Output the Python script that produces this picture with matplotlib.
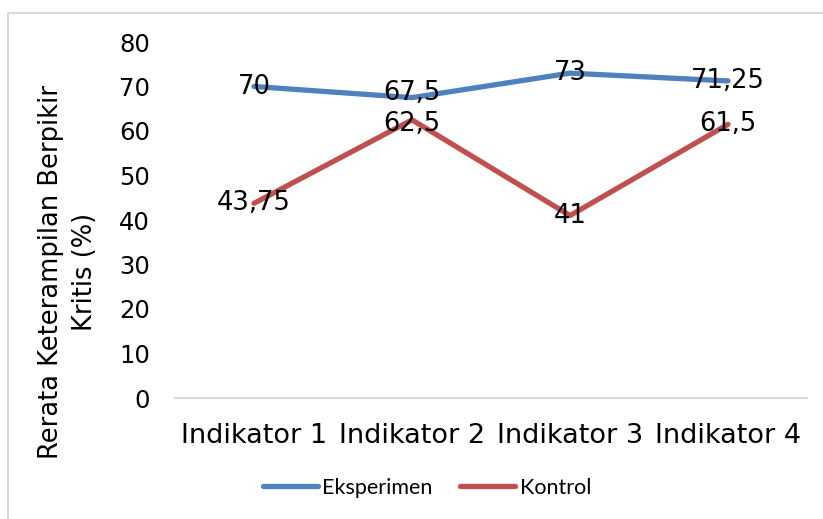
import matplotlib
matplotlib.use("Agg")
import matplotlib.pyplot as plt
from matplotlib.patches import Rectangle

categories = ["Indikator 1", "Indikator 2", "Indikator 3", "Indikator 4"]
eksperimen = [70, 67.5, 73, 71.25]
kontrol = [43.75, 62.5, 41, 61.5]
yticks = [0, 10, 20, 30, 40, 50, 60, 70, 80]

W, H = 823, 519
fig = plt.figure(figsize=(W / 100, H / 100), dpi=100)
fig.patch.set_facecolor("white")

# outer chart border (extends past right/bottom edges)
fig.patches.append(Rectangle((8 / W, -0.05), 1.0, (H - 13) / H + 0.05,
                             transform=fig.transFigure, fill=False,
                             edgecolor="#D9D9D9", linewidth=1.5))

left, right = 175 / W, 807 / W
bottom, top = 1 - 398 / H, 1 - 42 / H
ax = fig.add_axes([left, bottom, right - left, top - bottom])

x = list(range(len(categories)))
blue = "#4F81BD"
red = "#C0504D"
ax.plot(x, eksperimen, color=blue, lw=3.8, solid_capstyle="round", label="Eksperimen", zorder=3)
ax.plot(x, kontrol, color=red, lw=3.8, solid_capstyle="round", label="Kontrol", zorder=3)

def fmt(v):
    return ("%g" % v).replace(".", ",")

# data labels centred on points; the close pair at Indikator 2 nudged apart slightly
for i, (xi, v) in enumerate(zip(x, eksperimen)):
    dy = 3 if abs(v - kontrol[i]) < 8 else 0
    ax.annotate(fmt(v), (xi, v), xytext=(0, dy), textcoords="offset points",
                ha="center", va="center", fontsize=18.5, color="black", zorder=4)
for i, (xi, v) in enumerate(zip(x, kontrol)):
    dy = -3 if abs(v - eksperimen[i]) < 8 else 0
    ax.annotate(fmt(v), (xi, v), xytext=(0, dy), textcoords="offset points",
                ha="center", va="center", fontsize=18.5, color="black", zorder=4)

ax.set_xlim(-0.5, len(categories) - 0.5)
ax.set_ylim(0, 80)
ax.set_yticks(yticks)
ax.set_yticklabels([str(t) for t in yticks], fontsize=17.5)
ax.set_xticks(x)
ax.set_xticklabels(categories, fontsize=19.5)
ax.tick_params(axis="both", length=0)
ax.tick_params(axis="y", pad=18)
ax.tick_params(axis="x", pad=18)

for s in ["top", "right", "left"]:
    ax.spines[s].set_visible(False)
ax.spines["bottom"].set_color("#D9D9D9")
ax.spines["bottom"].set_linewidth(1.5)

fig.text(68 / W, 1 - 272 / H, "Rerata Keterampilan Berpikir\nKritis (%)",
         rotation=90, ha="center", va="center", fontsize=18.5, linespacing=1.35)

leg = fig.legend(loc="center", bbox_to_anchor=(427 / W, 1 - 488 / H), ncol=2,
                 frameon=False, prop={"family": "Lato", "size": 15.5},
                 handlelength=2.55, handletextpad=0.2, columnspacing=1.3)

fig.savefig("out.png", dpi=100)
